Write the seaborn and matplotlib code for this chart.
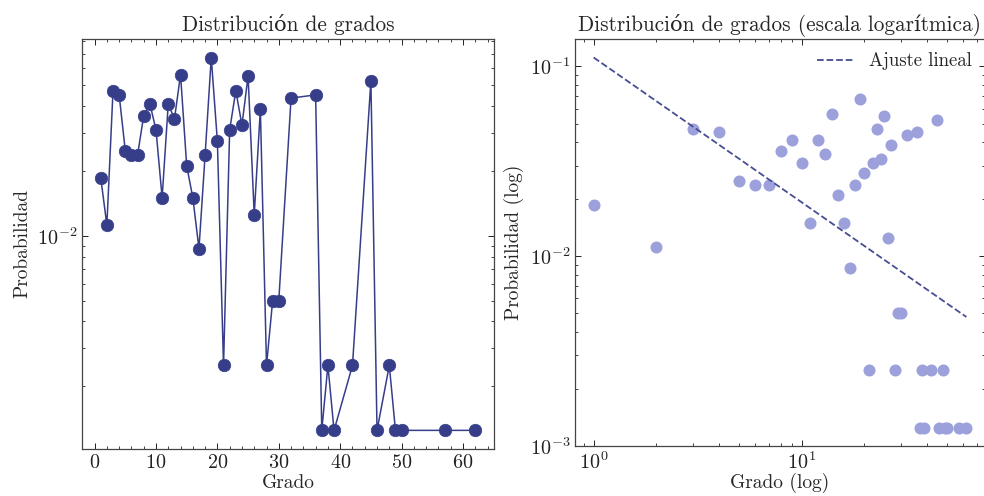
import numpy as np
import pandas as pd
import matplotlib
matplotlib.use("Agg")
import matplotlib.pyplot as plt
import matplotlib.ticker as mticker
import seaborn as sns

# ---- data ----
degrees = [1, 2, 3, 4, 5, 6, 7, 8, 9, 10, 11, 12, 13, 14, 15, 16, 17, 18, 19, 20,
           21, 22, 23, 24, 25, 26, 27, 28, 29, 30, 32, 36, 37, 38, 39, 42, 45, 46,
           48, 49, 50, 57, 62]
probabilities = [0.0186, 0.0112, 0.0470, 0.0450, 0.0248, 0.0237, 0.0237, 0.0360,
                 0.0410, 0.0310, 0.0150, 0.0410, 0.0347, 0.0559, 0.0211, 0.0150,
                 0.0087, 0.0237, 0.0670, 0.0274, 0.0025, 0.0310, 0.0470, 0.0326,
                 0.0551, 0.0125, 0.0387, 0.0025, 0.0050, 0.0050, 0.0435, 0.0450,
                 0.00125, 0.0025, 0.00125, 0.0025, 0.0523, 0.00125, 0.0025,
                 0.00125, 0.00125, 0.00125, 0.00125]
fit_amplitude = 0.1115   # value of the linear fit (log-log) at degree 1
fit_slope = -0.763       # slope of the linear fit in log-log space

titles = ["Distribución de grados", "Distribución de grados (escala logarítmica)"]
xlabels = ["Grado", "Grado (log)"]
ylabels = ["Probabilidad", "Probabilidad (log)"]
legend_label = "Ajuste lineal"

dark = "#363e8a"
light = "#9ca1dc"

sns.set_style("ticks")
plt.rcParams.update({
    "font.family": ["cmr10", "DejaVu Serif"],
    "mathtext.fontset": "cm",
    "axes.formatter.use_mathtext": True,
    "axes.unicode_minus": False,
    "axes.edgecolor": "#444444",
    "axes.linewidth": 0.9,
    "xtick.direction": "in",
    "ytick.direction": "in",
    "xtick.top": True,
    "ytick.right": True,
    "xtick.minor.visible": True,
    "ytick.minor.visible": True,
    "xtick.major.size": 4.5,
    "ytick.major.size": 4.5,
    "xtick.minor.size": 2.3,
    "ytick.minor.size": 2.3,
    "xtick.major.width": 0.7,
    "ytick.major.width": 0.7,
    "xtick.minor.width": 0.6,
    "ytick.minor.width": 0.6,
    "xtick.color": "#222222",
    "ytick.color": "#222222",
    "font.size": 13,
})

df = pd.DataFrame({"grado": degrees, "prob": probabilities})
deg_arr = np.array(degrees, dtype=float)
df_fit = pd.DataFrame({"grado": deg_arr, "fit": fit_amplitude * deg_arr ** fit_slope})

fig = plt.figure(figsize=(9.84, 4.96), dpi=100)
ax1 = fig.add_axes([82 / 984, 47 / 496, 412 / 984, 410 / 496])
ax2 = fig.add_axes([575 / 984, 50 / 496, 410 / 984, 407 / 496])

# left: linear x, log y
sns.lineplot(data=df, x="grado", y="prob", ax=ax1, color=dark, marker="o",
             markersize=9, markeredgecolor=dark, markeredgewidth=0.5, linewidth=1.1)
ax1.set_yscale("log")
ax1.xaxis.set_major_locator(mticker.MultipleLocator(10))
ax1.xaxis.set_minor_locator(mticker.MultipleLocator(2))
ax1.yaxis.set_minor_formatter(mticker.NullFormatter())
ax1.set_title(titles[0], fontsize=15.3)
ax1.set_xlabel(xlabels[0], fontsize=14, labelpad=1.5)
ax1.set_ylabel(ylabels[0], fontsize=14)

# right: log-log
sns.scatterplot(data=df, x="grado", y="prob", ax=ax2, color=light, s=75,
                linewidth=0, zorder=2)
sns.lineplot(data=df_fit, x="grado", y="fit", ax=ax2, color="#474d92",
             linestyle="--", linewidth=1.3, label=legend_label, zorder=3)
ax2.set_xscale("log")
ax2.set_yscale("log")
ax2.xaxis.set_minor_formatter(mticker.NullFormatter())
ax2.yaxis.set_minor_formatter(mticker.NullFormatter())
ax2.set_title(titles[1], fontsize=15.3)
ax2.set_xlabel(xlabels[1], fontsize=14, labelpad=0.5)
ax2.set_ylabel(ylabels[1], fontsize=14)
ax2.legend(loc="upper right", frameon=False, fontsize=13.5,
           borderaxespad=0.3)

for ax in (ax1, ax2):
    ax.tick_params(which="both", labelsize=14.5)

fig.savefig("out.png", dpi=100)
